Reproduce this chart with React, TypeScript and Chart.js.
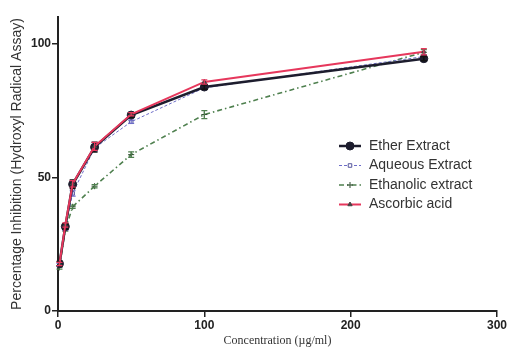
import React, { useEffect, useRef } from "react";
import { Chart, registerables } from "chart.js";
import * as helpersModule from "chart.js/helpers";

Chart.register(...registerables);

const concentrations = [1, 5, 10, 25, 50, 100, 250];
const etherValues = [17.7, 31.6, 47.4, 61.3, 73.3, 83.8, 94.4];
const etherErrors = [0.8, 1.0, 1.6, 1.8, 0.8, 0.8, 0.8];
const aqueousValues = [17.2, 31.0, 44.0, 61.0, 70.8, 83.5, 95.2];
const aqueousErrors = [0.6, 0.8, 1.0, 1.2, 0.6, 0.6, 0.6];
const ethanolicValues = [16.3, 30.5, 39.0, 46.7, 58.5, 73.5, 96.8];
const ethanolicErrors = [0.6, 0.6, 0.6, 0.6, 1.0, 1.5, 1.0];
const ascorbicValues = [17.6, 32.2, 47.6, 61.6, 73.6, 85.7, 97.0];
const ascorbicErrors = [0.6, 0.8, 1.2, 1.5, 0.6, 0.8, 1.2];

const seriesNames = ["Ether Extract", "Aqueous Extract", "Ethanolic extract", "Ascorbic acid"];
const xTicks = [0, 100, 200, 300];
const yTicks = [0, 50, 100];

const errorsBySeries = [etherErrors, aqueousErrors, ethanolicErrors, ascorbicErrors];

const errorBarPlugin = {
  id: "errorBars",
  afterDatasetDraw(chart: any, args: any) {
    const idx = args.index;
    const errs = errorsBySeries[idx];
    if (!errs) return;
    const ds = chart.data.datasets[idx];
    const x = chart.scales.x;
    const y = chart.scales.y;
    const ctx = chart.ctx;
    ctx.save();
    ctx.strokeStyle = ds.errorColor || ds.borderColor;
    ctx.lineWidth = ds.errorWidth || 1.2;
    ctx.setLineDash([]);
    ds.data.forEach((p: any, i: number) => {
      const e = errs[i];
      const px = x.getPixelForValue(p.x);
      const top = y.getPixelForValue(p.y + e);
      const bot = y.getPixelForValue(p.y - e);
      ctx.beginPath();
      ctx.moveTo(px, top);
      ctx.lineTo(px, bot);
      ctx.moveTo(px - 3, top);
      ctx.lineTo(px + 3, top);
      ctx.moveTo(px - 3, bot);
      ctx.lineTo(px + 3, bot);
      ctx.stroke();
    });
    ctx.restore();
  },
};

const legendPlugin = {
  id: "insideLegend",
  afterDraw(chart: any) {
    const ctx = chart.ctx;
    const startX = 339;
    const endX = 361;
    const textX = 369;
    const rowY = [146, 165.5, 185, 204.5];
    ctx.save();
    chart.data.datasets.forEach((ds: any, i: number) => {
      const yy = rowY[i];
      ctx.beginPath();
      ctx.strokeStyle = ds.borderColor;
      ctx.lineWidth = ds.borderWidth;
      ctx.setLineDash(ds.borderDash || []);
      ctx.moveTo(startX, yy);
      ctx.lineTo(endX, yy);
      ctx.stroke();
      ctx.setLineDash([]);
      ctx.fillStyle = ds.pointBackgroundColor;
      ctx.strokeStyle = ds.pointBorderColor;
      ctx.lineWidth = ds.pointBorderWidth;
      helpersModule.drawPoint(
        ctx,
        { pointStyle: ds.pointStyle, radius: ds.pointRadius, borderWidth: ds.pointBorderWidth, rotation: 0 } as any,
        350,
        yy
      );
      ctx.fillStyle = "#333333";
      ctx.font = "14px 'Liberation Sans', Arial, sans-serif";
      ctx.textBaseline = "middle";
      ctx.textAlign = "left";
      ctx.fillText(seriesNames[i], textX, yy);
    });
    ctx.restore();
  },
};

export default function App() {
  const ref = useRef<HTMLCanvasElement | null>(null);
  useEffect(() => {
    if (!ref.current) return;
    const mk = (vals: number[]) => concentrations.map((c, i) => ({ x: c, y: vals[i] }));
    const chart = new Chart(ref.current, {
      type: "line",
      data: {
        datasets: [
          {
            label: seriesNames[0],
            data: mk(etherValues),
            borderColor: "#1d1d2e",
            borderWidth: 2.5,
            pointStyle: "circle",
            pointRadius: 4,
            pointBackgroundColor: "#1d1d2e",
            pointBorderColor: "#1d1d2e",
            pointBorderWidth: 1,
            order: 1,
            errorColor: "#111111",
            errorWidth: 1.5,
          } as any,
          {
            label: seriesNames[1],
            data: mk(aqueousValues),
            borderColor: "#6d6dc8",
            borderWidth: 1,
            borderDash: [3, 2],
            pointStyle: "rect",
            pointRadius: 2.5,
            pointBackgroundColor: "#ffffff",
            pointBorderColor: "#55559a",
            pointBorderWidth: 1,
            order: 2,
          } as any,
          {
            label: seriesNames[2],
            data: mk(ethanolicValues),
            borderColor: "#4f804f",
            borderWidth: 1.6,
            borderDash: [5, 3, 1.5, 3],
            pointStyle: "cross",
            pointRadius: 3,
            pointBackgroundColor: "#2e4a2e",
            pointBorderColor: "#2e4a2e",
            pointBorderWidth: 1,
            order: 3,
          } as any,
          {
            label: seriesNames[3],
            data: mk(ascorbicValues),
            borderColor: "#e6375c",
            borderWidth: 2,
            pointStyle: "triangle",
            pointRadius: 2.5,
            pointBackgroundColor: "#444444",
            pointBorderColor: "#444444",
            pointBorderWidth: 1,
            order: 0,
            errorColor: "#e6375c",
            errorWidth: 1.2,
          } as any,
        ],
      },
      options: {
        animation: false,
        responsive: false,
        devicePixelRatio: 1,
        layout: { padding: { top: 17, right: 13, left: 0, bottom: 0 } },
        plugins: { legend: { display: false }, tooltip: { enabled: false } },
        elements: { line: { tension: 0 } },
        scales: {
          x: {
            type: "linear",
            min: 0,
            max: 300,
            afterBuildTicks: (s: any) => {
              s.ticks = xTicks.map((v) => ({ value: v }));
            },
            afterFit: (s: any) => {
              s.height = 39;
            },
            grid: { display: true, drawOnChartArea: false, drawTicks: true, tickLength: 6, color: "#222222", lineWidth: 1.5 },
            border: { display: true, color: "#222222", width: 2 },
            ticks: { color: "#222222", font: { family: "'Liberation Sans', Arial, sans-serif", size: 12, weight: "bold" }, padding: 1, maxRotation: 0 },
            title: {
              display: true,
              text: "Concentration (µg/ml)",
              color: "#333333",
              font: { family: "'Liberation Serif', 'Times New Roman', serif", size: 12 },
              padding: { top: 0, bottom: 2 },
            },
          },
          y: {
            type: "linear",
            min: 0,
            max: 110,
            afterBuildTicks: (s: any) => {
              s.ticks = yTicks.map((v) => ({ value: v }));
            },
            afterFit: (s: any) => {
              s.width = 58;
            },
            grid: { display: true, drawOnChartArea: false, drawTicks: true, tickLength: 6, color: "#222222", lineWidth: 1.5 },
            border: { display: true, color: "#222222", width: 2 },
            ticks: { color: "#222222", font: { family: "'Liberation Sans', Arial, sans-serif", size: 12, weight: "bold" }, padding: 1 },
            title: {
              display: true,
              text: "Percentage Inhibition (Hydroxyl Radical Assay)",
              color: "#333333",
              font: { family: "'Liberation Sans', Arial, sans-serif", size: 14 },
              padding: { top: 9, bottom: 0 },
            },
          },
        },
      } as any,
      plugins: [errorBarPlugin, legendPlugin],
    });
    return () => chart.destroy();
  }, []);
  return (
    <div style={{ position: "absolute", left: 0, top: 0, width: 510, height: 350, background: "#ffffff" }}>
      <canvas ref={ref} width={510} height={350} />
    </div>
  );
}
